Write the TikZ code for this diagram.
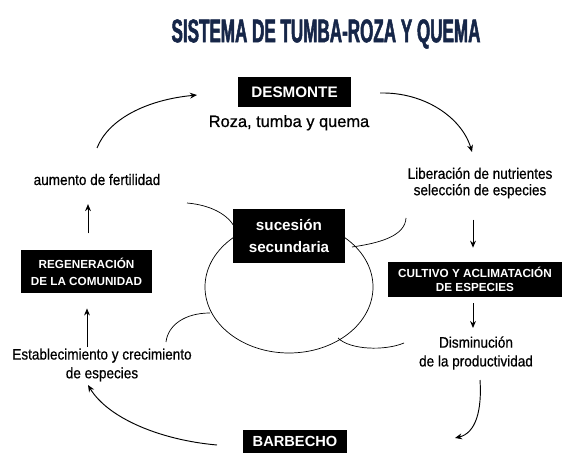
\documentclass[tikz,border=0pt]{standalone}
\usepackage{fontspec}
\setmainfont{Liberation Sans}
\newfontfamily\titlefont[FakeStretch=0.52,FakeBold=1.5]{Liberation Sans}
\newfontfamily\narrowfont[FakeStretch=0.89,FakeBold=0.6]{Liberation Sans}
\newfontfamily\rozafont[FakeBold=0.8]{Liberation Sans}
\definecolor{titleblue}{RGB}{22,38,72}
\usetikzlibrary{arrows.meta}

\begin{document}
\begin{tikzpicture}[x=0.03cm,y=-0.03cm,
		darkbox/.style={fill=black,text=white,align=center,inner sep=0pt},
		plain/.style={font=\narrowfont\fontsize{13}{16}\selectfont,align=center,inner sep=0pt},
		arr/.style={thick,-{Stealth[length=6pt,width=5pt]}},
		petal/.style={semithick}]
		\useasboundingbox (0,0) rectangle (562,457);

		\node[text=titleblue,font=\titlefont\bfseries\fontsize{28}{28}\selectfont] (title) at (326,34) {SISTEMA DE TUMBA-ROZA Y QUEMA};

		% centre
		\draw[semithick] (289,287) ellipse [x radius=84, y radius=66];
		\draw[petal] (187,203) .. controls (210,205) and (228,214) .. (235,228);
		\draw[petal] (352,247) .. controls (380,243) and (405,236) .. (406,218);
		\draw[petal] (210,313) .. controls (185,313) and (168,325) .. (166,342);
		\draw[petal] (338,338) .. controls (350,350) and (385,351) .. (404,343);
		\node[darkbox,minimum width=3.36cm,minimum height=1.62cm,font=\bfseries\fontsize{13}{18}\selectfont] (sucesion) at (289,236) {sucesión\\secundaria};

		% cycle
		\node[darkbox,minimum width=3.39cm,minimum height=0.9cm,font=\bfseries\fontsize{13}{15}\selectfont] (desmonte) at (294.5,92) {DESMONTE};
		\node[inner sep=0pt,anchor=base,font=\rozafont\fontsize{14}{16}\selectfont] (roza) at (289,127) {Roza, tumba y quema};

		\node[plain,font=\narrowfont\fontsize{13}{14}\selectfont] (liberacion) at (480,183) {Liberación de nutrientes\\selección de especies};
		\node[darkbox,minimum width=5.22cm,minimum height=1.05cm,font=\bfseries\fontsize{10}{12.5}\selectfont] (cultivo) at (475,279.5) {CULTIVO Y ACLIMATACIÓN\\DE ESPECIES};
		\node[plain] (disminucion) at (476,353) {Disminución\\de la productividad};

		\node[darkbox,minimum width=3.12cm,minimum height=0.69cm,font=\bfseries\fontsize{12.5}{14}\selectfont] (barbecho) at (295,441.5) {BARBECHO};

		\node[plain] (establecimiento) at (102,365) {Establecimiento y crecimiento\\de especies};
		\node[darkbox,minimum width=3.93cm,minimum height=1.29cm,font=\bfseries\fontsize{10}{14.5}\selectfont] (regeneracion) at (86.5,271.5) {REGENERACIÓN\\DE LA COMUNIDAD};
		\node[plain,anchor=base] (aumento) at (97,185) {aumento de fertilidad};

		% arrows
		\coordinate (a1) at (97,148);
		\coordinate (a2) at (197,95);
		\coordinate (b1) at (380,93);
		\coordinate (b2) at (472,152);
		\coordinate (c1) at (480,380);
		\coordinate (c2) at (455,438);
		\coordinate (d1) at (217,445);
		\coordinate (d2) at (88,385);

		\draw[arr] (a1) .. controls (108,120) and (145,100) .. (a2);
		\draw[arr] (b1) .. controls (425,92) and (462,118) .. (b2);
		\draw[arr] (c1) .. controls (482,410) and (476,433) .. (c2);
		\draw[arr] (d1) .. controls (160,440) and (108,418) .. (d2);

		\draw[arr,shorten <=18pt,shorten >=12pt] (liberacion.south -| 473,0) -- (cultivo.north -| 473,0);
		\draw[arr,shorten <=5pt,shorten >=7pt] (cultivo.south -| 473,0) -- (disminucion.north -| 473,0);
		\draw[arr,shorten <=1pt,shorten >=13pt] (establecimiento.north -| 87,0) -- (regeneracion.south -| 87,0);
		\draw[arr,shorten <=14pt,shorten >=16pt] (regeneracion.north -| 88,0) -- (aumento.south -| 88,0);

	\end{tikzpicture}
\end{document}
